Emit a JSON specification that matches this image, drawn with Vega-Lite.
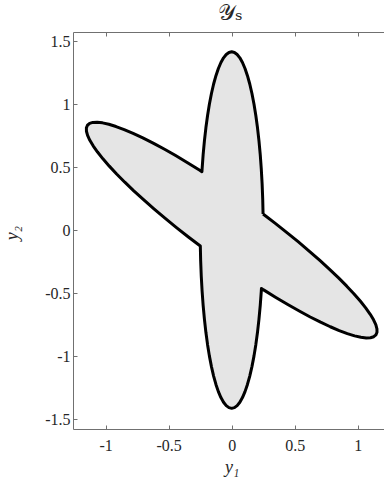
{
  "$schema": "https://vega.github.io/schema/vega-lite/v6.json",
  "autosize": "none",
  "width": 311,
  "height": 397,
  "padding": {"left": 73, "top": 32, "right": 0, "bottom": 56},
  "background": "white",
  "config": {
    "view": {"stroke": null},
    "axis": {
      "grid": false,
      "domainColor": "#707070",
      "tickColor": "#707070",
      "labelColor": "#262626",
      "titleColor": "#262626",
      "labelFont": "'Liberation Serif', 'DejaVu Serif', serif",
      "titleFont": "'Liberation Serif', 'DejaVu Serif', serif",
      "labelFontSize": 16,
      "titleFontSize": 18,
      "titleFontWeight": "normal"
    }
  },
  "data": {
    "values": [
      {"i": 0, "x": 0.2490, "y": 0.1270},
      {"i": 1, "x": 0.2462, "y": 0.2457},
      {"i": 2, "x": 0.2415, "y": 0.3662},
      {"i": 3, "x": 0.2349, "y": 0.4840},
      {"i": 4, "x": 0.2266, "y": 0.5980},
      {"i": 5, "x": 0.2165, "y": 0.7075},
      {"i": 6, "x": 0.2048, "y": 0.8116},
      {"i": 7, "x": 0.1915, "y": 0.9095},
      {"i": 8, "x": 0.1768, "y": 1.0006},
      {"i": 9, "x": 0.1607, "y": 1.0839},
      {"i": 10, "x": 0.1434, "y": 1.1591},
      {"i": 11, "x": 0.1250, "y": 1.2254},
      {"i": 12, "x": 0.1057, "y": 1.2824},
      {"i": 13, "x": 0.0855, "y": 1.3297},
      {"i": 14, "x": 0.0647, "y": 1.3668},
      {"i": 15, "x": 0.0434, "y": 1.3935},
      {"i": 16, "x": 0.0218, "y": 1.4096},
      {"i": 17, "x": 0.0, "y": 1.4150},
      {"i": 18, "x": -0.0218, "y": 1.4096},
      {"i": 19, "x": -0.0434, "y": 1.3935},
      {"i": 20, "x": -0.0647, "y": 1.3668},
      {"i": 21, "x": -0.0855, "y": 1.3297},
      {"i": 22, "x": -0.1057, "y": 1.2824},
      {"i": 23, "x": -0.1250, "y": 1.2254},
      {"i": 24, "x": -0.1434, "y": 1.1591},
      {"i": 25, "x": -0.1607, "y": 1.0839},
      {"i": 26, "x": -0.1768, "y": 1.0006},
      {"i": 27, "x": -0.1915, "y": 0.9095},
      {"i": 28, "x": -0.2048, "y": 0.8116},
      {"i": 29, "x": -0.2165, "y": 0.7075},
      {"i": 30, "x": -0.2266, "y": 0.5980},
      {"i": 31, "x": -0.2349, "y": 0.4840},
      {"i": 32, "x": -0.2362, "y": 0.4630},
      {"i": 33, "x": -0.2534, "y": 0.4747},
      {"i": 34, "x": -0.3505, "y": 0.5350},
      {"i": 35, "x": -0.4450, "y": 0.5912},
      {"i": 36, "x": -0.5362, "y": 0.6429},
      {"i": 37, "x": -0.6232, "y": 0.6898},
      {"i": 38, "x": -0.7055, "y": 0.7314},
      {"i": 39, "x": -0.7824, "y": 0.7674},
      {"i": 40, "x": -0.8534, "y": 0.7976},
      {"i": 41, "x": -0.9178, "y": 0.8217},
      {"i": 42, "x": -0.9753, "y": 0.8396},
      {"i": 43, "x": -1.0254, "y": 0.8510},
      {"i": 44, "x": -1.0677, "y": 0.8560},
      {"i": 45, "x": -1.1018, "y": 0.8545},
      {"i": 46, "x": -1.1275, "y": 0.8465},
      {"i": 47, "x": -1.1447, "y": 0.8320},
      {"i": 48, "x": -1.1532, "y": 0.8112},
      {"i": 49, "x": -1.1528, "y": 0.7842},
      {"i": 50, "x": -1.1438, "y": 0.7513},
      {"i": 51, "x": -1.1259, "y": 0.7126},
      {"i": 52, "x": -1.0996, "y": 0.6686},
      {"i": 53, "x": -1.0648, "y": 0.6194},
      {"i": 54, "x": -1.0220, "y": 0.5655},
      {"i": 55, "x": -0.9714, "y": 0.5073},
      {"i": 56, "x": -0.9134, "y": 0.4453},
      {"i": 57, "x": -0.8484, "y": 0.3798},
      {"i": 58, "x": -0.7770, "y": 0.3115},
      {"i": 59, "x": -0.6997, "y": 0.2408},
      {"i": 60, "x": -0.6170, "y": 0.1683},
      {"i": 61, "x": -0.5296, "y": 0.0945},
      {"i": 62, "x": -0.4383, "y": 0.0199},
      {"i": 63, "x": -0.3436, "y": -0.0548},
      {"i": 64, "x": -0.2490, "y": -0.1270},
      {"i": 65, "x": -0.2462, "y": -0.2457},
      {"i": 66, "x": -0.2415, "y": -0.3662},
      {"i": 67, "x": -0.2349, "y": -0.4840},
      {"i": 68, "x": -0.2266, "y": -0.5980},
      {"i": 69, "x": -0.2165, "y": -0.7075},
      {"i": 70, "x": -0.2048, "y": -0.8116},
      {"i": 71, "x": -0.1915, "y": -0.9095},
      {"i": 72, "x": -0.1768, "y": -1.0006},
      {"i": 73, "x": -0.1607, "y": -1.0839},
      {"i": 74, "x": -0.1434, "y": -1.1591},
      {"i": 75, "x": -0.1250, "y": -1.2254},
      {"i": 76, "x": -0.1057, "y": -1.2824},
      {"i": 77, "x": -0.0855, "y": -1.3297},
      {"i": 78, "x": -0.0647, "y": -1.3668},
      {"i": 79, "x": -0.0434, "y": -1.3935},
      {"i": 80, "x": -0.0218, "y": -1.4096},
      {"i": 81, "x": 0.0, "y": -1.4150},
      {"i": 82, "x": 0.0218, "y": -1.4096},
      {"i": 83, "x": 0.0434, "y": -1.3935},
      {"i": 84, "x": 0.0647, "y": -1.3668},
      {"i": 85, "x": 0.0855, "y": -1.3297},
      {"i": 86, "x": 0.1057, "y": -1.2824},
      {"i": 87, "x": 0.1250, "y": -1.2254},
      {"i": 88, "x": 0.1434, "y": -1.1591},
      {"i": 89, "x": 0.1607, "y": -1.0839},
      {"i": 90, "x": 0.1768, "y": -1.0006},
      {"i": 91, "x": 0.1915, "y": -0.9095},
      {"i": 92, "x": 0.2048, "y": -0.8116},
      {"i": 93, "x": 0.2165, "y": -0.7075},
      {"i": 94, "x": 0.2266, "y": -0.5980},
      {"i": 95, "x": 0.2349, "y": -0.4840},
      {"i": 96, "x": 0.2362, "y": -0.4630},
      {"i": 97, "x": 0.2534, "y": -0.4747},
      {"i": 98, "x": 0.3505, "y": -0.5350},
      {"i": 99, "x": 0.4450, "y": -0.5912},
      {"i": 100, "x": 0.5362, "y": -0.6429},
      {"i": 101, "x": 0.6232, "y": -0.6898},
      {"i": 102, "x": 0.7055, "y": -0.7314},
      {"i": 103, "x": 0.7824, "y": -0.7674},
      {"i": 104, "x": 0.8534, "y": -0.7976},
      {"i": 105, "x": 0.9178, "y": -0.8217},
      {"i": 106, "x": 0.9753, "y": -0.8396},
      {"i": 107, "x": 1.0254, "y": -0.8510},
      {"i": 108, "x": 1.0677, "y": -0.8560},
      {"i": 109, "x": 1.1018, "y": -0.8545},
      {"i": 110, "x": 1.1275, "y": -0.8465},
      {"i": 111, "x": 1.1447, "y": -0.8320},
      {"i": 112, "x": 1.1532, "y": -0.8112},
      {"i": 113, "x": 1.1528, "y": -0.7842},
      {"i": 114, "x": 1.1438, "y": -0.7513},
      {"i": 115, "x": 1.1259, "y": -0.7126},
      {"i": 116, "x": 1.0996, "y": -0.6686},
      {"i": 117, "x": 1.0648, "y": -0.6194},
      {"i": 118, "x": 1.0220, "y": -0.5655},
      {"i": 119, "x": 0.9714, "y": -0.5073},
      {"i": 120, "x": 0.9134, "y": -0.4453},
      {"i": 121, "x": 0.8484, "y": -0.3798},
      {"i": 122, "x": 0.7770, "y": -0.3115},
      {"i": 123, "x": 0.6997, "y": -0.2408},
      {"i": 124, "x": 0.6170, "y": -0.1683},
      {"i": 125, "x": 0.5296, "y": -0.0945},
      {"i": 126, "x": 0.4383, "y": -0.0199},
      {"i": 127, "x": 0.3436, "y": 0.0548},
      {"i": 128, "x": 0.2490, "y": 0.1270}
    ]
  },
  "layer": [
    {
      "mark": {"type": "line", "fill": "#e5e5e5", "stroke": "black", "strokeWidth": 3, "strokeJoin": "round", "clip": true},
      "encoding": {
        "x": {
          "field": "x", "type": "quantitative",
          "scale": {"domain": [-1.2595, 1.2088], "nice": false, "zero": false},
          "axis": {
            "orient": "bottom",
            "values": [-1, -0.5, 0, 0.5, 1],
            "labelExpr": "'' + datum.value",
            "tickSize": -4,
            "labelPadding": 12,
            "labelFlush": false,
            "title": "y₁",
            "titleFontStyle": "italic",
            "titleX": 158.7,
            "titleY": 43,
            "titleBaseline": "alphabetic"
          }
        },
        "y": {
          "field": "y", "type": "quantitative",
          "scale": {"domain": [-1.579, 1.572], "nice": false, "zero": false},
          "axis": {
            "orient": "left",
            "values": [-1.5, -1, -0.5, 0, 0.5, 1, 1.5],
            "labelExpr": "'' + datum.value",
            "tickSize": -4,
            "labelPadding": 7,
            "labelFlush": false,
            "title": "y₂",
            "titleFontStyle": "italic",
            "titleAngle": -90,
            "titleX": -56,
            "titleY": 200.5,
            "titleBaseline": "alphabetic"
          }
        },
        "order": {"field": "i", "type": "quantitative"}
      }
    },
    {
      "mark": {"type": "line", "opacity": 0},
      "encoding": {
        "x": {
          "field": "x", "type": "quantitative",
          "scale": {"domain": [-1.2595, 1.2088], "nice": false, "zero": false},
          "axis": {
            "orient": "top",
            "values": [-1, -0.5, 0, 0.5, 1],
            "labels": false,
            "tickSize": -4,
            "title": "𝒴ₛ",
            "titleFont": "'Liberation Serif', 'DejaVu Serif', 'DejaVu Sans', 'Noto Sans', serif",
            "titleFontSize": 22,
            "titleX": 157,
            "titleY": -13,
            "titleBaseline": "alphabetic"
          }
        },
        "y": {"field": "y", "type": "quantitative"},
        "order": {"field": "i", "type": "quantitative"}
      }
    }
  ],
  "resolve": {"axis": {"x": "independent"}}
}
